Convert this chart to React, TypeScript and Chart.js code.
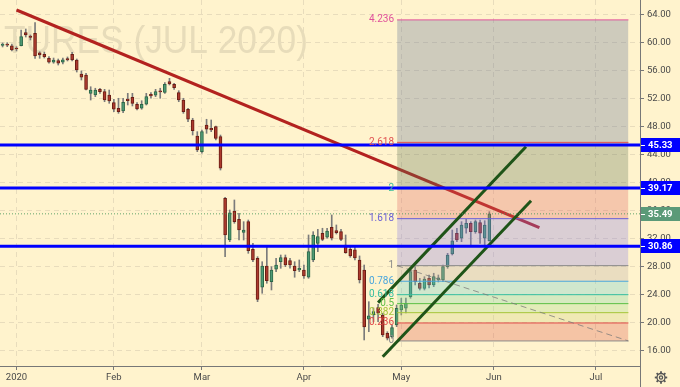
import React, { useEffect, useRef } from 'react';
import { Chart, registerables } from 'chart.js';

Chart.register(...registerables);

// ---------- DATA ----------
// Daily bars; bar index 0 = first trading day of 2020 (bars before are late Dec 2019)
const FIRST_BAR_INDEX = -3;

const opens = [
  59.54, 59.75, 59.51, 59.18, 59.51, 61.37, 60.90, 61.28, 58.51, 58.28,
  57.71, 57.14, 57.37, 57.14, 57.68, 58.28, 57.47, 55.47, 55.33, 52.71,
  52.47, 53.28, 52.94, 52.47, 51.37, 50.57, 50.18, 51.90, 52.14, 51.14,
  50.57, 51.14, 52.57, 52.43, 53.08, 52.85, 54.37, 54.00, 52.80, 51.75,
  50.43, 48.90, 46.61, 44.37, 48.18, 47.71, 47.94, 46.51, 37.71, 31.75,
  35.90, 34.71, 32.85, 34.37, 30.43, 29.14, 25.00, 28.04, 25.80, 27.57,
  28.65, 29.23, 28.80, 28.04, 27.47, 27.47, 26.43, 28.90, 31.28, 32.71,
  32.14, 33.57, 33.08, 32.94, 31.04, 30.43, 30.33, 28.90, 27.47, 20.43,
  21.04, 22.08, 21.04, 18.43, 17.94, 19.61, 21.75, 22.00, 23.65, 27.47,
  25.57, 24.85, 26.28, 25.33, 26.04, 26.04, 27.94, 29.75, 32.71, 32.00,
  33.43, 34.14, 32.94, 34.23, 32.00, 31.65,
];
const highs = [
  59.90, 59.94, 59.75, 59.37, 61.75, 61.90, 61.04, 62.80, 58.65, 58.61,
  57.94, 57.75, 57.61, 57.75, 57.90, 58.57, 57.61, 55.90, 55.57, 53.65,
  53.43, 53.43, 53.28, 53.18, 51.85, 52.00, 52.00, 52.71, 52.71, 51.37,
  51.65, 52.71, 52.80, 53.28, 53.43, 54.23, 54.85, 54.14, 53.08, 52.00,
  50.57, 49.14, 47.23, 47.47, 49.00, 48.90, 48.04, 46.75, 37.85, 36.04,
  37.47, 35.57, 34.37, 34.61, 31.28, 29.37, 28.65, 30.71, 27.94, 29.14,
  29.61, 29.61, 29.14, 28.65, 28.90, 28.18, 32.47, 32.94, 33.28, 33.43,
  33.43, 35.33, 33.90, 33.28, 32.47, 30.71, 30.71, 29.47, 28.18, 22.94,
  22.04, 22.57, 21.28, 18.65, 19.61, 22.47, 23.43, 23.47, 27.71, 27.94,
  26.28, 26.51, 26.75, 27.00, 26.75, 28.18, 29.85, 33.18, 33.43, 34.37,
  34.71, 34.37, 34.61, 34.61, 34.51, 35.80,
];
const lows = [
  59.33, 59.37, 58.75, 58.75, 59.47, 60.75, 60.33, 57.71, 57.71, 57.75,
  57.00, 57.00, 56.75, 56.90, 57.33, 57.33, 55.75, 54.61, 53.18, 51.75,
  52.23, 52.71, 51.51, 51.28, 50.08, 49.85, 49.94, 51.04, 50.90, 50.33,
  50.43, 51.04, 52.00, 52.23, 52.00, 52.71, 53.90, 53.28, 51.51, 49.85,
  48.65, 46.75, 44.37, 44.14, 46.99, 47.23, 46.04, 41.75, 29.37, 31.51,
  34.14, 31.75, 31.75, 29.85, 28.65, 22.94, 24.14, 25.57, 24.61, 27.23,
  27.71, 27.94, 27.71, 26.43, 27.23, 26.28, 26.28, 28.65, 30.08, 31.65,
  32.00, 31.75, 32.61, 31.65, 29.85, 29.28, 28.90, 25.61, 17.47, 18.65,
  20.08, 20.08, 17.94, 17.47, 17.71, 19.37, 21.04, 21.33, 23.43, 25.33,
  24.61, 24.61, 24.90, 25.08, 25.75, 25.80, 27.71, 29.61, 31.51, 31.51,
  32.71, 30.80, 32.71, 31.28, 31.04, 31.57,
];
const closes = [
  59.75, 59.57, 58.90, 59.04, 60.80, 61.04, 60.68, 58.04, 58.18, 57.94,
  57.14, 57.47, 57.00, 57.51, 57.47, 57.47, 56.04, 55.00, 53.28, 53.18,
  53.18, 52.94, 51.75, 51.61, 50.43, 50.08, 51.43, 51.65, 51.28, 50.47,
  51.14, 52.23, 52.33, 52.94, 52.90, 54.00, 54.04, 53.51, 51.75, 50.08,
  49.00, 47.37, 44.61, 47.23, 47.57, 47.47, 46.28, 42.00, 32.47, 35.65,
  34.37, 33.18, 33.18, 30.23, 28.90, 23.28, 28.04, 25.94, 27.47, 28.18,
  29.23, 28.18, 28.18, 27.37, 27.71, 26.61, 30.08, 32.47, 32.23, 31.85,
  33.04, 32.00, 32.80, 31.85, 29.94, 29.47, 29.18, 26.04, 19.33, 20.90,
  21.51, 21.28, 18.18, 17.71, 19.23, 22.00, 22.47, 22.71, 27.23, 25.80,
  24.85, 26.18, 25.33, 26.51, 26.33, 27.94, 29.61, 31.65, 31.75, 33.90,
  34.14, 32.94, 34.37, 32.71, 33.90, 35.49,
];

const monthTickIndex = [0, 21, 40, 62, 83, 103, 125];
const monthTickLabels = ['2020', 'Feb', 'Mar', 'Apr', 'May', 'Jun', 'Jul'];
const priceTickValues = [16, 20, 24, 28, 32, 36, 40, 44, 48, 52, 56, 60, 64];

const X_MIN = -3.56;
const X_MAX = 134.5;
const Y_MIN = 13.75;
const Y_MAX = 66.04;

const keyLevels = [45.33, 39.17, 30.86];
const lastPrice = 35.49;

const redTrendX = [0, 112.8];
const redTrendY = [64.61, 33.51];
const channelUpperX = [78.0, 109.9];
const channelUpperY = [22.8, 45.08];
const channelLowerX = [79.0, 111.0];
const channelLowerY = [15.08, 37.37];

const fibRatios = ['0', '0.236', '0.382', '0.5', '0.618', '0.786', '1', '1.618', '2', '2.618', '4.236'];
const fibPrices = [17.33, 19.9, 21.37, 22.66, 23.94, 25.86, 28.09, 34.8, 39.06, 45.7, 63.2];
const fibStartX = 82.1;
const fibEndX = 132.0;
const fibDiagY = [28.09, 17.33];

const watermarkText = 'TURES (JUL 2020)';

// ---------- STYLE ----------
const BG = '#fff3cd';
const UP_FILL = '#4e9a74';
const UP_EDGE = '#2b6647';
const DOWN_FILL = '#ad3a2d';
const DOWN_EDGE = '#6a1d15';
const WICK = '#7b7b7b';
const fibLineColors = ['#8c8c8c', '#e04848', '#a6c53a', '#5cbf45', '#35bfa0', '#4aa6dc', '#8a8a8a', '#6a5fd6', '#3cbf9a', '#e05050', '#e0509a'];
const fibZoneColors = [
  'rgba(222,90,72,0.3)', 'rgba(205,213,122,0.3)', 'rgba(158,223,138,0.3)', 'rgba(118,216,162,0.3)',
  'rgba(98,206,205,0.3)', 'rgba(185,173,162,0.3)', 'rgba(132,123,228,0.3)', 'rgba(222,100,95,0.3)',
  'rgba(92,116,82,0.3)', 'rgba(92,113,148,0.3)',
];
const FONT = 'Roboto, "Liberation Sans", sans-serif';

export default function App() {
  const ref = useRef<HTMLCanvasElement | null>(null);

  useEffect(() => {
    const canvas = ref.current;
    if (!canvas) return;
    const xs = opens.map((_, i) => FIRST_BAR_INDEX + i);
    const up = opens.map((o, i) => closes[i] >= o);
    const seg = (x0: number, y0: number, x1: number, y1: number) => [{ x: x0, y: y0 }, { x: x1, y: y1 }];
    const lineDs = (data: any[], color: string, width: number, order: number, extra: any = {}) => ({
      type: 'line', data, borderColor: color, borderWidth: width, pointRadius: 0, fill: false,
      tension: 0, order, ...extra,
    });

    const datasets: any[] = [];
    datasets.push({
      type: 'bar', data: xs.map((x, i) => ({ x, y: [lows[i], highs[i]] })),
      backgroundColor: WICK, borderWidth: 0, barThickness: 1, grouped: false, order: 20,
    });
    datasets.push({
      type: 'bar', data: xs.map((x, i) => ({ x, y: [opens[i], closes[i]] })),
      backgroundColor: up.map((u) => (u ? UP_FILL : DOWN_FILL)),
      borderColor: up.map((u) => (u ? UP_EDGE : DOWN_EDGE)),
      borderWidth: 1, borderSkipped: false, barThickness: 3, grouped: false, minBarLength: 1, order: 19,
    });
    datasets.push(lineDs(seg(redTrendX[0], redTrendY[0], redTrendX[1], redTrendY[1]), '#b3221f', 3, 18));
    fibPrices.forEach((p, i) => {
      datasets.push(lineDs(seg(fibStartX, p, fibEndX, p), fibLineColors[i], 1, 10, i === 0 ? {} : {
        fill: '-1', backgroundColor: fibZoneColors[i - 1],
      }));
    });
    datasets.push(lineDs(seg(fibStartX, fibDiagY[0], fibEndX, fibDiagY[1]), 'rgba(120,120,120,0.75)', 1, 9, { borderDash: [6, 4] }));
    datasets.push(lineDs(seg(channelUpperX[0], channelUpperY[0], channelUpperX[1], channelUpperY[1]), '#1f5418', 3, 5));
    datasets.push(lineDs(seg(channelLowerX[0], channelLowerY[0], channelLowerX[1], channelLowerY[1]), '#1f5418', 3, 5));
    datasets.push(lineDs(seg(X_MIN, lastPrice, X_MAX, lastPrice), 'rgba(70,150,90,0.85)', 1, 4, { borderDash: [1, 2] }));
    keyLevels.forEach((v) => datasets.push(lineDs(seg(X_MIN, v, X_MAX, v), '#0000ff', 3, 1)));

    const decor = {
      id: 'decor',
      beforeDraw(chart: any) {
        const ctx = chart.ctx;
        ctx.save();
        ctx.fillStyle = BG;
        ctx.fillRect(0, 0, chart.width, chart.height);
        ctx.font = `39px "Liberation Sans", Arial, sans-serif`;
        ctx.fillStyle = 'rgba(120,115,100,0.18)';
        ctx.textBaseline = 'alphabetic';
        ctx.textAlign = 'left';
        ctx.fillText(watermarkText, 4, 53, 304);
        ctx.restore();
      },
      afterDatasetsDraw(chart: any) {
        const ctx = chart.ctx;
        const xS = chart.scales.x;
        const yS = chart.scales.y;
        ctx.save();
        ctx.font = `10px ${FONT}`;
        ctx.textAlign = 'right';
        ctx.textBaseline = 'middle';
        const lx = xS.getPixelForValue(fibStartX) - 3;
        fibPrices.forEach((p, i) => {
          ctx.fillStyle = fibLineColors[i];
          ctx.fillText(fibRatios[i], lx, yS.getPixelForValue(p));
        });
        ctx.restore();
      },
      afterDraw(chart: any) {
        const ctx = chart.ctx;
        const yS = chart.scales.y;
        const area = chart.chartArea;
        ctx.save();
        ctx.strokeStyle = '#777';
        ctx.lineWidth = 1;
        ctx.beginPath();
        ctx.moveTo(area.right + 0.5, area.bottom);
        ctx.lineTo(area.right + 0.5, chart.height);
        ctx.stroke();
        const box = (v: number, color: string) => {
          const y = yS.getPixelForValue(v);
          ctx.fillStyle = color;
          ctx.fillRect(area.right + 1, Math.round(y) - 7, chart.width - area.right - 1, 14);
          ctx.strokeStyle = '#ffffff';
          ctx.beginPath();
          ctx.moveTo(area.right + 1, Math.round(y) + 0.5);
          ctx.lineTo(area.right + 5, Math.round(y) + 0.5);
          ctx.stroke();
          ctx.fillStyle = '#ffffff';
          ctx.font = `bold 9.5px ${FONT}`;
          ctx.textAlign = 'left';
          ctx.textBaseline = 'middle';
          ctx.fillText(v.toFixed(2), area.right + 8, Math.round(y) + 0.5);
        };
        keyLevels.forEach((v) => box(v, '#0000ff'));
        box(lastPrice, '#5b9a78');
        // settings gear
        const cx = 661, cy = 377.5;
        ctx.strokeStyle = '#555';
        ctx.lineWidth = 1.3;
        ctx.beginPath();
        ctx.arc(cx, cy, 4, 0, Math.PI * 2);
        ctx.stroke();
        ctx.beginPath();
        ctx.arc(cx, cy, 1.6, 0, Math.PI * 2);
        ctx.stroke();
        ctx.lineWidth = 1.8;
        for (let k = 0; k < 8; k++) {
          const a = (k * Math.PI) / 4;
          ctx.beginPath();
          ctx.moveTo(cx + Math.cos(a) * 4, cy + Math.sin(a) * 4);
          ctx.lineTo(cx + Math.cos(a) * 6.2, cy + Math.sin(a) * 6.2);
          ctx.stroke();
        }
        ctx.restore();
      },
    };

    const chart = new Chart(canvas, {
      type: 'bar',
      data: { datasets },
      options: {
        animation: false,
        responsive: false,
        maintainAspectRatio: false,
        devicePixelRatio: 1,
        events: [],
        layout: { padding: 0 },
        plugins: { legend: { display: false }, tooltip: { enabled: false } },
        scales: {
          x: {
            type: 'linear', position: 'bottom', min: X_MIN, max: X_MAX, offset: false,
            grid: { color: '#e8dcbc', offset: false, drawTicks: true, tickLength: 4, tickColor: '#777' },
            border: { display: true, color: '#777', width: 1, dash: [5, 4] },
            ticks: {
              autoSkip: false, maxRotation: 0, padding: 2, color: '#4a4a4a',
              font: { family: FONT, size: 9.5 },
              callback: (v: any) => {
                const k = monthTickIndex.indexOf(Number(v));
                return k >= 0 ? monthTickLabels[k] : '';
              },
            },
            afterBuildTicks: (s: any) => { s.ticks = monthTickIndex.map((v) => ({ value: v })); },
            afterFit: (s: any) => { s.height = 21; s.paddingLeft = 0; s.paddingRight = 0; },
          },
          y: {
            type: 'linear', position: 'right', min: Y_MIN, max: Y_MAX,
            grid: { color: '#e8dcbc', drawTicks: true, tickLength: 4, tickColor: '#777' },
            border: { display: true, color: '#777', width: 1, dash: [5, 4] },
            ticks: {
              padding: 3, color: '#4a4a4a', font: { family: FONT, size: 9.5 },
              callback: (v: any) => Number(v).toFixed(2),
            },
            afterBuildTicks: (s: any) => { s.ticks = priceTickValues.map((v) => ({ value: v })); },
            afterFit: (s: any) => { s.width = 40; s.paddingTop = 0; s.paddingBottom = 0; },
          },
        },
      } as any,
      plugins: [decor],
    } as any);

    return () => chart.destroy();
  }, []);

  return (
    <div style={{ position: 'fixed', left: 0, top: 0, width: 680, height: 387, background: BG }}>
      <canvas ref={ref} width={680} height={387} style={{ display: 'block', width: 680, height: 387 }} />
    </div>
  );
}
